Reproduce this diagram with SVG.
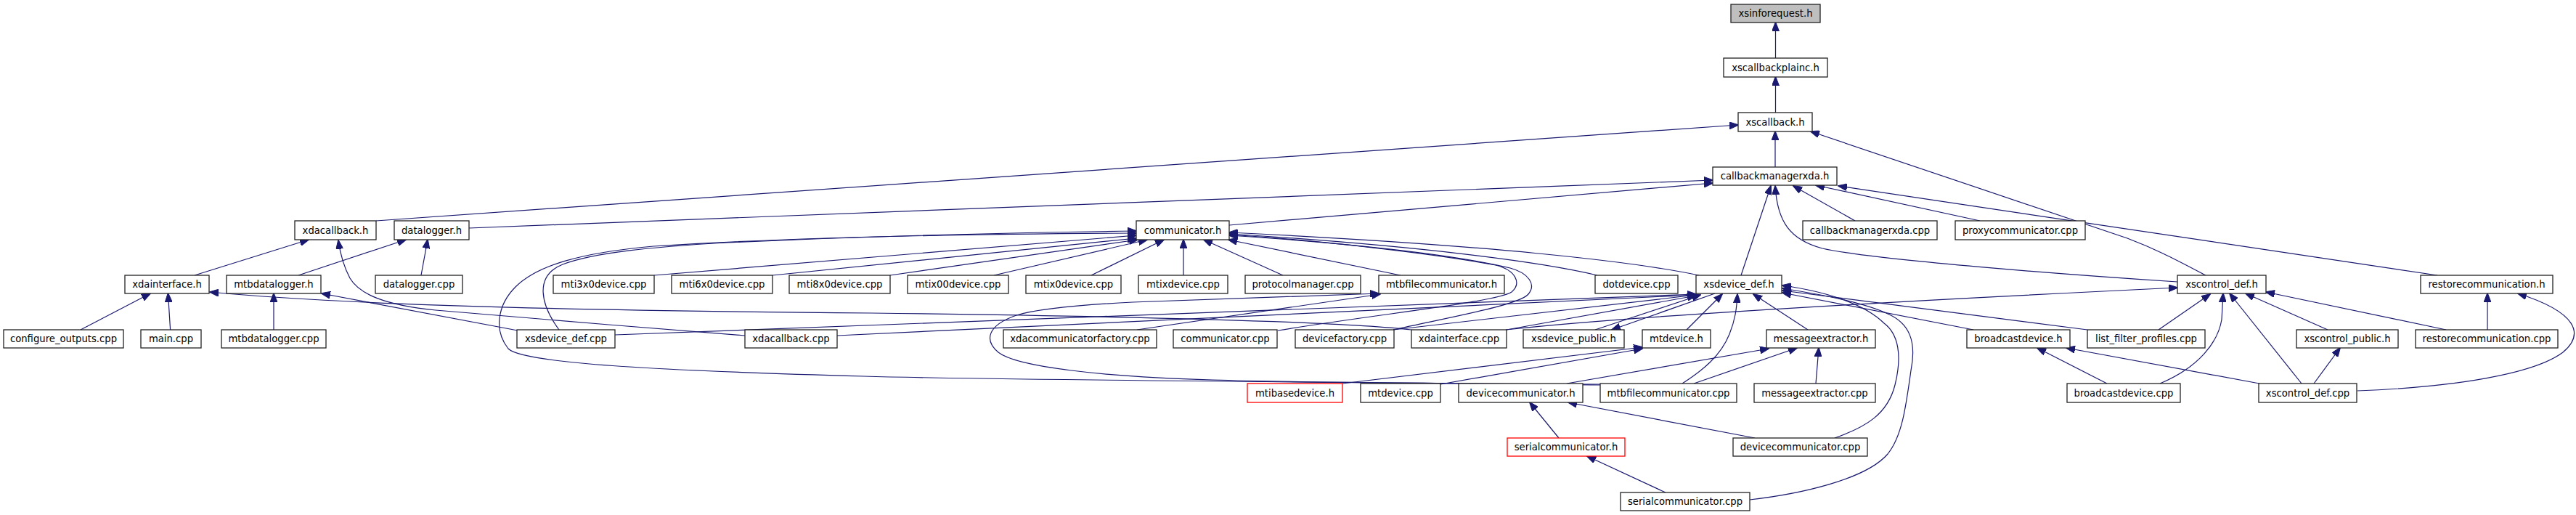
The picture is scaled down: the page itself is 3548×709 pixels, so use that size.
<svg xmlns="http://www.w3.org/2000/svg" width="3548" height="709" viewBox="0 0 3548 709">
<style>
.e{fill:none;stroke:#191970;stroke-width:1.2;marker-end:url(#ah)}
.n rect{fill:#fff;stroke:#222;stroke-width:1.3}
.root rect{fill:#bfbfbf}
.red rect{stroke:#ff0000}
text{font-family:"DejaVu Sans","Liberation Sans",sans-serif;font-size:13.2px;text-anchor:middle;fill:#000}
</style>
<defs>
<marker id="ah" markerWidth="13" markerHeight="10" refX="12" refY="5" orient="auto" markerUnits="userSpaceOnUse"><path d="M0,0 L13,5 L0,10 z" fill="#191970" stroke="#191970" stroke-width="1"/></marker>
</defs>
<rect width="3548" height="709" fill="#fff"/>
<g id="connectors">
<path class="e" d="M2445.5,80 L2445.5,31"/>
<path class="e" d="M2445.5,155 L2445.5,106"/>
<path class="e" d="M2445,230 L2445,181"/>
<path class="e" d="M518,304 L2394,172"/>
<path class="e" d="M3038,379 C3005,362 2975,345 2930,328 L2494,181"/>
<path class="e" d="M646,314 L2359,248"/>
<path class="e" d="M1693,310 L2359,252"/>
<path class="e" d="M2555,304 L2470,256"/>
<path class="e" d="M2727,304 L2501,255"/>
<path class="e" d="M3357,379 L2532,256"/>
<path class="e" d="M2398,379 L2439,256"/>
<path class="e" d="M2999,388 C2860,379 2580,358 2510,342 C2465,330 2448,305 2445,256"/>
<path class="e" d="M268,379 L425,330"/>
<path class="e" d="M1026,462 C900,452 700,436 600,427 C530,420 495,405 482,383 C474,368 469,352 466,331"/>
<path class="e" d="M411,379 L559,330"/>
<path class="e" d="M580,379 L589,330"/>
<path class="e" d="M111,454 L207,404"/>
<path class="e" d="M234.6,454 L231.5,404"/>
<path class="e" d="M1944,454 C1850,443 1600,436 1200,431 C850,428 500,422 289,402"/>
<path class="e" d="M377,454 L377,404"/>
<path class="e" d="M713,455 L443,404"/>
<path class="e" d="M901,379 L1565,324"/>
<path class="e" d="M1064,379 L1565,328"/>
<path class="e" d="M1226,379 L1567,330"/>
<path class="e" d="M1369,379 L1580,330"/>
<path class="e" d="M1503,379 L1603,330"/>
<path class="e" d="M1630,379 L1630,330"/>
<path class="e" d="M1767,379 L1658,330"/>
<path class="e" d="M1929,379 L1692,330"/>
<path class="e" d="M2200,379 C2120,360 1950,338 1693,322"/>
<path class="e" d="M2340,379 C2250,360 2050,337 1693,320"/>
<path class="e" d="M1760,455 C1900,432 2060,416 2082,402 C2096,390 2088,372 2060,365 C1980,350 1820,331 1693,323"/>
<path class="e" d="M1919,454 C2000,436 2092,420 2105,405 C2116,392 2106,376 2080,369 C2000,350 1850,334 1693,324"/>
<path class="e" d="M770,454 C745,420 735,380 775,364 C820,347 900,340 1000,334 C1200,325 1400,320 1565,318"/>
<path class="e" d="M2204,530 C2000,527 1400,524 1190,518 C900,510 720,500 700,480 C680,455 685,420 710,395 C740,365 800,348 900,339 C1100,326 1350,322 1565,321"/>
<path class="e" d="M1566,454 L1901,405"/>
<path class="e" d="M2204,529 C2000,528 1800,527 1670,523 C1520,519 1400,505 1375,485 C1355,468 1360,448 1400,434 C1430,425 1480,420 1560,416 C1700,411 1800,408 1899,404"/>
<path class="e" d="M847,461 L2336,405"/>
<path class="e" d="M1153,462 L2336,406"/>
<path class="e" d="M1919,454 L2336,406"/>
<path class="e" d="M2075,454 L2336,407"/>
<path class="e" d="M2197,454 L2342,406"/>
<path class="e" d="M2362,404 L2220,454"/>
<path class="e" d="M2323,454 L2372,405"/>
<path class="e" d="M2317,528 C2345,510 2370,490 2382,460 C2390,440 2392,425 2393,405"/>
<path class="e" d="M2490,454 L2415,405"/>
<path class="e" d="M2718,454 L2455,403"/>
<path class="e" d="M2875,454 L2455,400"/>
<path class="e" d="M2527,603 C2570,588 2600,570 2610,530 C2620,490 2615,460 2595,445 C2570,420 2520,402 2455,393"/>
<path class="e" d="M2410,688 C2480,680 2570,660 2600,625 C2620,600 2625,560 2632,510 C2640,470 2630,445 2600,432 C2570,418 2520,407 2455,397"/>
<path class="e" d="M2074,454 C2200,440 2500,420 2999,396"/>
<path class="e" d="M2973,454 L3044,405"/>
<path class="e" d="M2975,528 C3030,505 3055,470 3060,440 L3062,404"/>
<path class="e" d="M3170,528 L3071,404"/>
<path class="e" d="M3206,454 L3093,404"/>
<path class="e" d="M3369,454 L3121,402"/>
<path class="e" d="M3426,454 L3426,404"/>
<path class="e" d="M3247,538 C3380,533 3490,515 3530,485 C3560,460 3550,430 3468,404"/>
<path class="e" d="M3187,528 L3223,479"/>
<path class="e" d="M2902,528 L2806,479"/>
<path class="e" d="M3112,528 L2846,479"/>
<path class="e" d="M2501,528 L2505,479"/>
<path class="e" d="M2158,528 L2436,480"/>
<path class="e" d="M2333,528 L2475,479"/>
<path class="e" d="M2147,603 L2107,554"/>
<path class="e" d="M2417,603 L2160,554"/>
<path class="e" d="M2294,678 L2186,628"/>
<path class="e" d="M1849,528 L2262,478"/>
<path class="e" d="M1984,529 L2262,480"/>
</g>
<g id="xsinforequest_h" class="n root"><rect x="2384" y="6" width="123" height="25"/><text x="2445.5" y="23">xsinforequest.h</text></g>
<g id="xscallbackplainc_h" class="n"><rect x="2374" y="80" width="143" height="26"/><text x="2445.5" y="97.5">xscallbackplainc.h</text></g>
<g id="xscallback_h" class="n"><rect x="2394" y="155" width="102" height="26"/><text x="2445" y="172.5">xscallback.h</text></g>
<g id="callbackmanagerxda_h" class="n"><rect x="2359" y="230" width="171" height="25"/><text x="2444.5" y="247">callbackmanagerxda.h</text></g>
<g id="xdacallback_h" class="n"><rect x="406" y="304" width="112" height="26"/><text x="462" y="321.5">xdacallback.h</text></g>
<g id="datalogger_h" class="n"><rect x="543" y="304" width="103" height="26"/><text x="594.5" y="321.5">datalogger.h</text></g>
<g id="communicator_h" class="n"><rect x="1565" y="304" width="128" height="26"/><text x="1629" y="321.5">communicator.h</text></g>
<g id="callbackmanagerxda_cpp" class="n"><rect x="2483" y="304" width="185" height="26"/><text x="2575.5" y="321.5">callbackmanagerxda.cpp</text></g>
<g id="proxycommunicator_cpp" class="n"><rect x="2693" y="304" width="179" height="26"/><text x="2782.5" y="321.5">proxycommunicator.cpp</text></g>
<g id="xdainterface_h" class="n"><rect x="172" y="379" width="116" height="25"/><text x="230" y="396">xdainterface.h</text></g>
<g id="mtbdatalogger_h" class="n"><rect x="312" y="379" width="130" height="25"/><text x="377" y="396">mtbdatalogger.h</text></g>
<g id="datalogger_cpp" class="n"><rect x="517" y="379" width="120" height="25"/><text x="577" y="396">datalogger.cpp</text></g>
<g id="mti3x0device_cpp" class="n"><rect x="762" y="379" width="139" height="25"/><text x="831.5" y="396">mti3x0device.cpp</text></g>
<g id="mti6x0device_cpp" class="n"><rect x="925" y="379" width="139" height="25"/><text x="994.5" y="396">mti6x0device.cpp</text></g>
<g id="mti8x0device_cpp" class="n"><rect x="1087" y="379" width="139" height="25"/><text x="1156.5" y="396">mti8x0device.cpp</text></g>
<g id="mtix00device_cpp" class="n"><rect x="1250" y="379" width="139" height="25"/><text x="1319.5" y="396">mtix00device.cpp</text></g>
<g id="mtix0device_cpp" class="n"><rect x="1413" y="379" width="131" height="25"/><text x="1478.5" y="396">mtix0device.cpp</text></g>
<g id="mtixdevice_cpp" class="n"><rect x="1568" y="379" width="123" height="25"/><text x="1629.5" y="396">mtixdevice.cpp</text></g>
<g id="protocolmanager_cpp" class="n"><rect x="1715" y="379" width="159" height="25"/><text x="1794.5" y="396">protocolmanager.cpp</text></g>
<g id="mtbfilecommunicator_h" class="n"><rect x="1899" y="379" width="173" height="25"/><text x="1985.5" y="396">mtbfilecommunicator.h</text></g>
<g id="dotdevice_cpp" class="n"><rect x="2197" y="379" width="114" height="25"/><text x="2254" y="396">dotdevice.cpp</text></g>
<g id="xsdevice_def_h" class="n"><rect x="2336" y="379" width="118" height="25"/><text x="2395" y="396">xsdevice_def.h</text></g>
<g id="xscontrol_def_h" class="n"><rect x="2999" y="379" width="122" height="25"/><text x="3060" y="396">xscontrol_def.h</text></g>
<g id="restorecommunication_h" class="n"><rect x="3334" y="379" width="182" height="25"/><text x="3425" y="396">restorecommunication.h</text></g>
<g id="configure_outputs_cpp" class="n"><rect x="5" y="454" width="165" height="25"/><text x="87.5" y="471">configure_outputs.cpp</text></g>
<g id="main_cpp" class="n"><rect x="194" y="454" width="83" height="25"/><text x="235.5" y="471">main.cpp</text></g>
<g id="mtbdatalogger_cpp" class="n"><rect x="305" y="454" width="144" height="25"/><text x="377" y="471">mtbdatalogger.cpp</text></g>
<g id="xsdevice_def_cpp" class="n"><rect x="712" y="454" width="135" height="25"/><text x="779.5" y="471">xsdevice_def.cpp</text></g>
<g id="xdacallback_cpp" class="n"><rect x="1026" y="454" width="127" height="25"/><text x="1089.5" y="471">xdacallback.cpp</text></g>
<g id="xdacommunicatorfactory_cpp" class="n"><rect x="1382" y="454" width="211" height="25"/><text x="1487.5" y="471">xdacommunicatorfactory.cpp</text></g>
<g id="communicator_cpp" class="n"><rect x="1616" y="454" width="143" height="25"/><text x="1687.5" y="471">communicator.cpp</text></g>
<g id="devicefactory_cpp" class="n"><rect x="1784" y="454" width="136" height="25"/><text x="1852" y="471">devicefactory.cpp</text></g>
<g id="xdainterface_cpp" class="n"><rect x="1944" y="454" width="131" height="25"/><text x="2009.5" y="471">xdainterface.cpp</text></g>
<g id="xsdevice_public_h" class="n"><rect x="2098" y="454" width="139" height="25"/><text x="2167.5" y="471">xsdevice_public.h</text></g>
<g id="mtdevice_h" class="n"><rect x="2262" y="454" width="94" height="25"/><text x="2309" y="471">mtdevice.h</text></g>
<g id="messageextractor_h" class="n"><rect x="2433" y="454" width="150" height="25"/><text x="2508" y="471">messageextractor.h</text></g>
<g id="broadcastdevice_h" class="n"><rect x="2709" y="454" width="142" height="25"/><text x="2780" y="471">broadcastdevice.h</text></g>
<g id="list_filter_profiles_cpp" class="n"><rect x="2875" y="454" width="162" height="25"/><text x="2956" y="471">list_filter_profiles.cpp</text></g>
<g id="xscontrol_public_h" class="n"><rect x="3163" y="454" width="140" height="25"/><text x="3233" y="471">xscontrol_public.h</text></g>
<g id="restorecommunication_cpp" class="n"><rect x="3327" y="454" width="196" height="25"/><text x="3425" y="471">restorecommunication.cpp</text></g>
<g id="mtibasedevice_h" class="n red"><rect x="1718" y="528" width="131" height="26"/><text x="1783.5" y="545.5">mtibasedevice.h</text></g>
<g id="mtdevice_cpp" class="n"><rect x="1874" y="528" width="110" height="26"/><text x="1929" y="545.5">mtdevice.cpp</text></g>
<g id="devicecommunicator_h" class="n"><rect x="2009" y="528" width="171" height="26"/><text x="2094.5" y="545.5">devicecommunicator.h</text></g>
<g id="mtbfilecommunicator_cpp" class="n"><rect x="2204" y="528" width="188" height="26"/><text x="2298" y="545.5">mtbfilecommunicator.cpp</text></g>
<g id="messageextractor_cpp" class="n"><rect x="2416" y="528" width="167" height="26"/><text x="2499.5" y="545.5">messageextractor.cpp</text></g>
<g id="broadcastdevice_cpp" class="n"><rect x="2847" y="528" width="156" height="26"/><text x="2925" y="545.5">broadcastdevice.cpp</text></g>
<g id="xscontrol_def_cpp" class="n"><rect x="3111" y="528" width="135" height="26"/><text x="3178.5" y="545.5">xscontrol_def.cpp</text></g>
<g id="serialcommunicator_h" class="n red"><rect x="2076" y="603" width="162" height="25"/><text x="2157" y="620">serialcommunicator.h</text></g>
<g id="devicecommunicator_cpp" class="n"><rect x="2387" y="603" width="185" height="25"/><text x="2479.5" y="620">devicecommunicator.cpp</text></g>
<g id="serialcommunicator_cpp" class="n"><rect x="2232" y="678" width="178" height="25"/><text x="2321" y="695">serialcommunicator.cpp</text></g>
</svg>
